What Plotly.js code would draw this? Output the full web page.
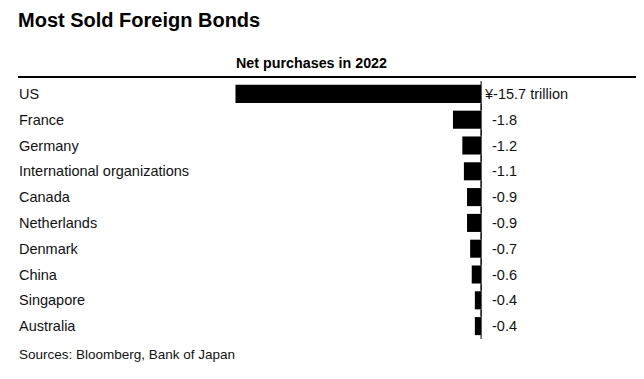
<!DOCTYPE html>
<html>
<head>
<meta charset="utf-8">
<script src="https://cdn.plot.ly/plotly-3.0.1.min.js"></script>
<style>html,body{margin:0;padding:0;background:#fff;}#chart{width:644px;height:379px;}</style>
</head>
<body>
<div id="chart"></div>
<script>
const categories = ["US", "France", "Germany", "International organizations", "Canada", "Netherlands", "Denmark", "China", "Singapore", "Australia"];
const values = [-15.7, -1.8, -1.2, -1.1, -0.9, -0.9, -0.7, -0.6, -0.4, -0.4];
const valueLabels = ["¥-15.7 trillion", "-1.8", "-1.2", "-1.1", "-0.9", "-0.9", "-0.7", "-0.6", "-0.4", "-0.4"];
const titleText = "Most Sold Foreign Bonds";
const subtitleText = "Net purchases in 2022";
const sourceText = "Sources: Bloomberg, Bank of Japan";

const FONT = "Liberation Sans, Arial, Helvetica, sans-serif";
const W = 644, H = 379;
const mT = 81, mB = 40, mL = 18, mR = 8;
const plotH = H - mT - mB;
const py = (pix) => 1 - (pix - mT) / plotH; // pixel y -> paper y

const bars = {
  type: "bar",
  orientation: "h",
  x: values,
  y: categories,
  marker: { color: "#000" },
  hoverinfo: "skip"
};

const zeroTicks = {
  type: "scatter",
  mode: "markers",
  x: categories.map(() => 0),
  y: categories,
  marker: { symbol: "line-ns", size: 23, line: { width: 1, color: "#000" } },
  hoverinfo: "skip"
};

const annotations = [];
categories.forEach((c, i) => {
  annotations.push({
    xref: "paper", yref: "y", x: 0, y: c, xanchor: "left", yanchor: "middle",
    text: c, showarrow: false, xshift: -1,
    font: { family: FONT, size: 14.5, color: "#111" }
  });
  annotations.push({
    xref: "x", yref: "y", x: 0, y: c, xanchor: "left", yanchor: "middle",
    text: valueLabels[i], showarrow: false, xshift: i === 0 ? 1 : 9,
    font: { family: FONT, size: 14.5, color: "#111" }
  });
});
annotations.push({
  xref: "x", yref: "paper", x: Math.min(...values), y: py(63), xanchor: "left", yanchor: "middle",
  text: "<b>" + subtitleText + "</b>", showarrow: false, xshift: -1,
  font: { family: FONT, size: 14.3, color: "#000" }
});
annotations.push({
  xref: "paper", yref: "paper", x: 0, y: py(354), xanchor: "left", yanchor: "middle",
  text: sourceText, showarrow: false, xshift: -1,
  font: { family: FONT, size: 13.5, color: "#111" }
});

const layout = {
  width: W, height: H,
  margin: { l: mL, r: mR, t: mT, b: mB, pad: 0 },
  paper_bgcolor: "#fff", plot_bgcolor: "#fff",
  showlegend: false,
  bargap: 0.3,
  title: {
    text: "<b>" + titleText + "</b>",
    x: 0, xref: "paper", xanchor: "left",
    y: 1 - 20 / H, yref: "container", yanchor: "middle",
    font: { family: FONT, size: 20, color: "#000" }
  },
  xaxis: {
    range: [-29.6, 9.9], autorange: false, showgrid: false, zeroline: false,
    showticklabels: false, ticks: "", showline: false, fixedrange: true
  },
  yaxis: {
    type: "category", autorange: false, range: [categories.length - 0.5, -0.5],
    showgrid: false, zeroline: false, showticklabels: false, ticks: "", showline: false, fixedrange: true
  },
  shapes: [{
    type: "line", xref: "paper", yref: "paper", x0: 0, x1: 1, y0: py(77), y1: py(77),
    line: { color: "#000", width: 2 }
  }],
  annotations: annotations
};

Plotly.newPlot("chart", [bars, zeroTicks], layout, { displayModeBar: false, staticPlot: true });
</script>
</body>
</html>
